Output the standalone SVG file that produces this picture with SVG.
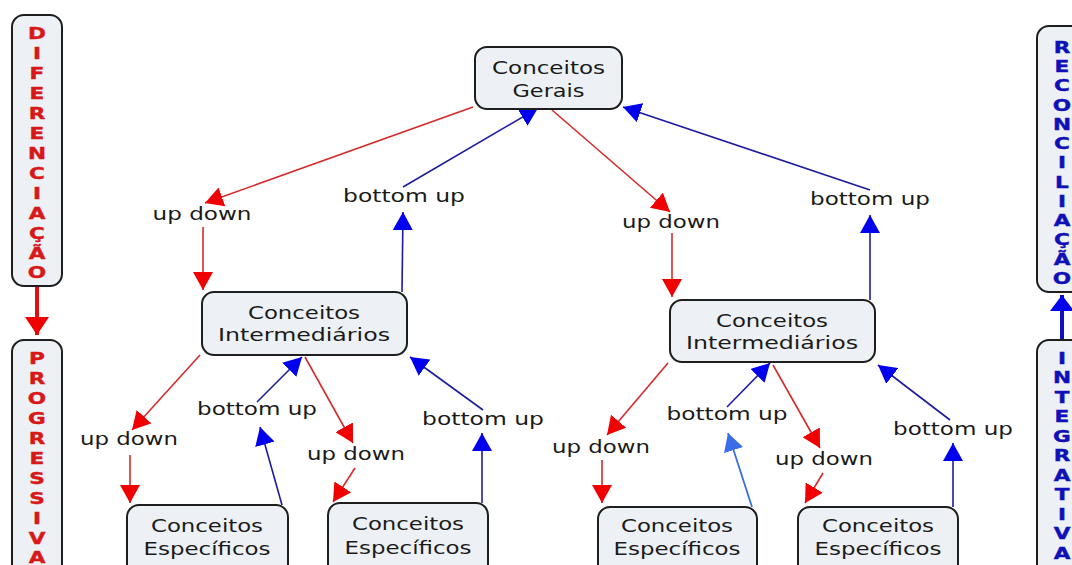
<svg xmlns="http://www.w3.org/2000/svg" width="1072" height="565" viewBox="0 0 1072 565">
<defs>
<style>
.box{fill:#edf1f5;stroke:#1e1e1e;stroke-width:2}
.t{font-family:"DejaVu Sans","Verdana",sans-serif;font-size:18px;fill:#1a1a1a;text-anchor:middle}
.v{font-family:"DejaVu Sans","Verdana",sans-serif;font-size:16px;font-weight:bold;text-anchor:middle;stroke-width:0.4}
.vr{fill:#d81818;stroke:#d81818}
.vb{fill:#1010b8;stroke:#1010b8}
.r{stroke:#d42a2a;stroke-width:1.6;fill:none;marker-end:url(#ar)}
.b{stroke:#1c1ca0;stroke-width:1.6;fill:none;marker-end:url(#ab)}
.lb{stroke:#3a6ee0;stroke-width:1.8;fill:none;marker-end:url(#alb)}
</style>
<marker id="ar" markerUnits="userSpaceOnUse" markerWidth="18" markerHeight="20" viewBox="0 0 18 20" refX="18" refY="10" orient="auto"><path d="M0,0 L18,10 L0,20 Z" fill="#f00000"/></marker>
<marker id="ab" markerUnits="userSpaceOnUse" markerWidth="18" markerHeight="20" viewBox="0 0 18 20" refX="18" refY="10" orient="auto"><path d="M0,0 L18,10 L0,20 Z" fill="#0000ee"/></marker>
<marker id="alb" markerUnits="userSpaceOnUse" markerWidth="18" markerHeight="20" viewBox="0 0 18 20" refX="18" refY="10" orient="auto"><path d="M0,0 L18,10 L0,20 Z" fill="#3a6ee8"/></marker>
<marker id="arB" markerUnits="userSpaceOnUse" markerWidth="18" markerHeight="24" viewBox="0 0 18 24" refX="18" refY="12" orient="auto"><path d="M0,0 L18,12 L0,24 Z" fill="#f00000"/></marker>
<marker id="abB" markerUnits="userSpaceOnUse" markerWidth="16" markerHeight="24" viewBox="0 0 16 24" refX="16" refY="12" orient="auto"><path d="M0,0 L16,12 L0,24 Z" fill="#0000ee"/></marker>
</defs>
<rect width="1072" height="565" fill="#ffffff"/>

<g id="connectors">
<line class="r" x1="473" y1="107" x2="205" y2="203"/>
<line class="r" x1="203" y1="227" x2="203" y2="290"/>
<line class="r" x1="552" y1="110" x2="670" y2="212"/>
<line class="r" x1="672" y1="233" x2="672" y2="297"/>
<line class="r" x1="200" y1="355" x2="132" y2="430"/>
<line class="r" x1="130" y1="455" x2="130" y2="503"/>
<line class="r" x1="305" y1="357" x2="353" y2="443"/>
<line class="r" x1="355" y1="468" x2="333" y2="502"/>
<line class="r" x1="668" y1="363" x2="607" y2="435"/>
<line class="r" x1="602" y1="460" x2="602" y2="503"/>
<line class="r" x1="773" y1="365" x2="820" y2="448"/>
<line class="r" x1="823" y1="473" x2="805" y2="503"/>
<line class="b" x1="403" y1="187" x2="538" y2="108"/>
<line class="b" x1="402" y1="292" x2="403" y2="212"/>
<line class="b" x1="870" y1="190" x2="623" y2="107"/>
<line class="b" x1="870" y1="300" x2="870" y2="215"/>
<line class="b" x1="257" y1="402" x2="302" y2="357"/>
<line class="b" x1="282" y1="505" x2="260" y2="427"/>
<line class="b" x1="483" y1="410" x2="410" y2="357"/>
<line class="b" x1="482" y1="503" x2="482" y2="433"/>
<line class="b" x1="727" y1="407" x2="770" y2="363"/>
<line class="lb" x1="752" y1="507" x2="728" y2="433"/>
<line class="b" x1="950" y1="420" x2="878" y2="365"/>
<line class="b" x1="953" y1="507" x2="953" y2="443"/>
<line x1="37" y1="286" x2="37" y2="335" stroke="#e01010" stroke-width="4" marker-end="url(#arB)"/>
<line x1="1062" y1="340" x2="1062" y2="295" stroke="#1010c0" stroke-width="4" marker-end="url(#abB)"/>
</g>

<g id="labels">
<text class="t" x="202" y="220" textLength="99" lengthAdjust="spacingAndGlyphs">up down</text>
<text class="t" x="404" y="202" textLength="122" lengthAdjust="spacingAndGlyphs">bottom up</text>
<text class="t" x="671" y="228" textLength="98" lengthAdjust="spacingAndGlyphs">up down</text>
<text class="t" x="870" y="205" textLength="120" lengthAdjust="spacingAndGlyphs">bottom up</text>
<text class="t" x="129" y="445" textLength="98" lengthAdjust="spacingAndGlyphs">up down</text>
<text class="t" x="257" y="415" textLength="120" lengthAdjust="spacingAndGlyphs">bottom up</text>
<text class="t" x="356" y="460" textLength="98" lengthAdjust="spacingAndGlyphs">up down</text>
<text class="t" x="483" y="425" textLength="122" lengthAdjust="spacingAndGlyphs">bottom up</text>
<text class="t" x="601" y="453" textLength="98" lengthAdjust="spacingAndGlyphs">up down</text>
<text class="t" x="727" y="420" textLength="121" lengthAdjust="spacingAndGlyphs">bottom up</text>
<text class="t" x="824" y="465" textLength="98" lengthAdjust="spacingAndGlyphs">up down</text>
<text class="t" x="953" y="435" textLength="120" lengthAdjust="spacingAndGlyphs">bottom up</text>
</g>

<g id="gerais">
<rect class="box" x="475" y="47" width="147" height="62" rx="12"/>
<text class="t" x="548.5" y="73.5" textLength="113" lengthAdjust="spacingAndGlyphs">Conceitos</text>
<text class="t" x="548.5" y="96.5" textLength="72" lengthAdjust="spacingAndGlyphs">Gerais</text>
</g>
<g id="inter-left">
<rect class="box" x="202" y="292" width="205" height="63" rx="12"/>
<text class="t" x="304" y="318.5" textLength="112" lengthAdjust="spacingAndGlyphs">Conceitos</text>
<text class="t" x="304" y="340.5" textLength="172" lengthAdjust="spacingAndGlyphs">Intermediários</text>
</g>
<g id="inter-right">
<rect class="box" x="670" y="300" width="205" height="62" rx="12"/>
<text class="t" x="772" y="326.5" textLength="112" lengthAdjust="spacingAndGlyphs">Conceitos</text>
<text class="t" x="772" y="348.5" textLength="172" lengthAdjust="spacingAndGlyphs">Intermediários</text>
</g>
<g id="esp-1">
<rect class="box" x="127" y="505" width="161" height="80" rx="12"/>
<text class="t" x="207" y="531.5" textLength="112" lengthAdjust="spacingAndGlyphs">Conceitos</text>
<text class="t" x="207" y="554.5" textLength="127" lengthAdjust="spacingAndGlyphs">Específicos</text>
</g>
<g id="esp-2">
<rect class="box" x="328" y="503" width="160" height="80" rx="12"/>
<text class="t" x="408" y="529.5" textLength="112" lengthAdjust="spacingAndGlyphs">Conceitos</text>
<text class="t" x="408" y="553.5" textLength="127" lengthAdjust="spacingAndGlyphs">Específicos</text>
</g>
<g id="esp-3">
<rect class="box" x="598" y="507" width="159" height="80" rx="12"/>
<text class="t" x="677" y="531.5" textLength="112" lengthAdjust="spacingAndGlyphs">Conceitos</text>
<text class="t" x="677" y="554.5" textLength="127" lengthAdjust="spacingAndGlyphs">Específicos</text>
</g>
<g id="esp-4">
<rect class="box" x="798" y="507" width="160" height="80" rx="12"/>
<text class="t" x="878" y="531.5" textLength="112" lengthAdjust="spacingAndGlyphs">Conceitos</text>
<text class="t" x="878" y="554.5" textLength="127" lengthAdjust="spacingAndGlyphs">Específicos</text>
</g>

<g id="diferenciacao">
<rect class="box" x="12" y="15" width="50" height="271" rx="12"/>
<g class="v vr" transform="matrix(1.35,0,0,1,-12.95,0)">
<text x="37" y="39">D</text><text x="37" y="59">I</text><text x="37" y="79">F</text><text x="37" y="99">E</text><text x="37" y="119">R</text><text x="37" y="139">E</text><text x="37" y="159">N</text><text x="37" y="179">C</text><text x="37" y="199">I</text><text x="37" y="219">A</text><text x="37" y="239">Ç</text><text x="37" y="259">Ã</text><text x="37" y="278">O</text>
</g>
</g>
<g id="progressiva">
<rect class="box" x="12" y="340" width="50" height="240" rx="12"/>
<g class="v vr" transform="matrix(1.35,0,0,1,-12.95,0)">
<text x="37" y="364">P</text><text x="37" y="384">R</text><text x="37" y="404">O</text><text x="37" y="424">G</text><text x="37" y="444">R</text><text x="37" y="464">E</text><text x="37" y="484">S</text><text x="37" y="504">S</text><text x="37" y="524">I</text><text x="37" y="544">V</text><text x="37" y="563">A</text>
</g>
</g>
<g id="reconciliacao">
<rect class="box" x="1037" y="26" width="50" height="266" rx="12"/>
<g class="v vb" transform="matrix(1.35,0,0,1,-371.7,0)">
<text x="1062" y="53">R</text><text x="1062" y="72">E</text><text x="1062" y="91">C</text><text x="1062" y="111">O</text><text x="1062" y="130">N</text><text x="1062" y="149">C</text><text x="1062" y="168">I</text><text x="1062" y="188">L</text><text x="1062" y="207">I</text><text x="1062" y="226">A</text><text x="1062" y="245">Ç</text><text x="1062" y="265">Ã</text><text x="1062" y="284">O</text>
</g>
</g>
<g id="integrativa">
<rect class="box" x="1037" y="340" width="50" height="240" rx="12"/>
<g class="v vb" transform="matrix(1.35,0,0,1,-371.7,0)">
<text x="1062" y="364">I</text><text x="1062" y="383">N</text><text x="1062" y="403">T</text><text x="1062" y="422">E</text><text x="1062" y="442">G</text><text x="1062" y="461">R</text><text x="1062" y="481">A</text><text x="1062" y="500">T</text><text x="1062" y="520">I</text><text x="1062" y="539">V</text><text x="1062" y="559">A</text>
</g>
</g>
</svg>
